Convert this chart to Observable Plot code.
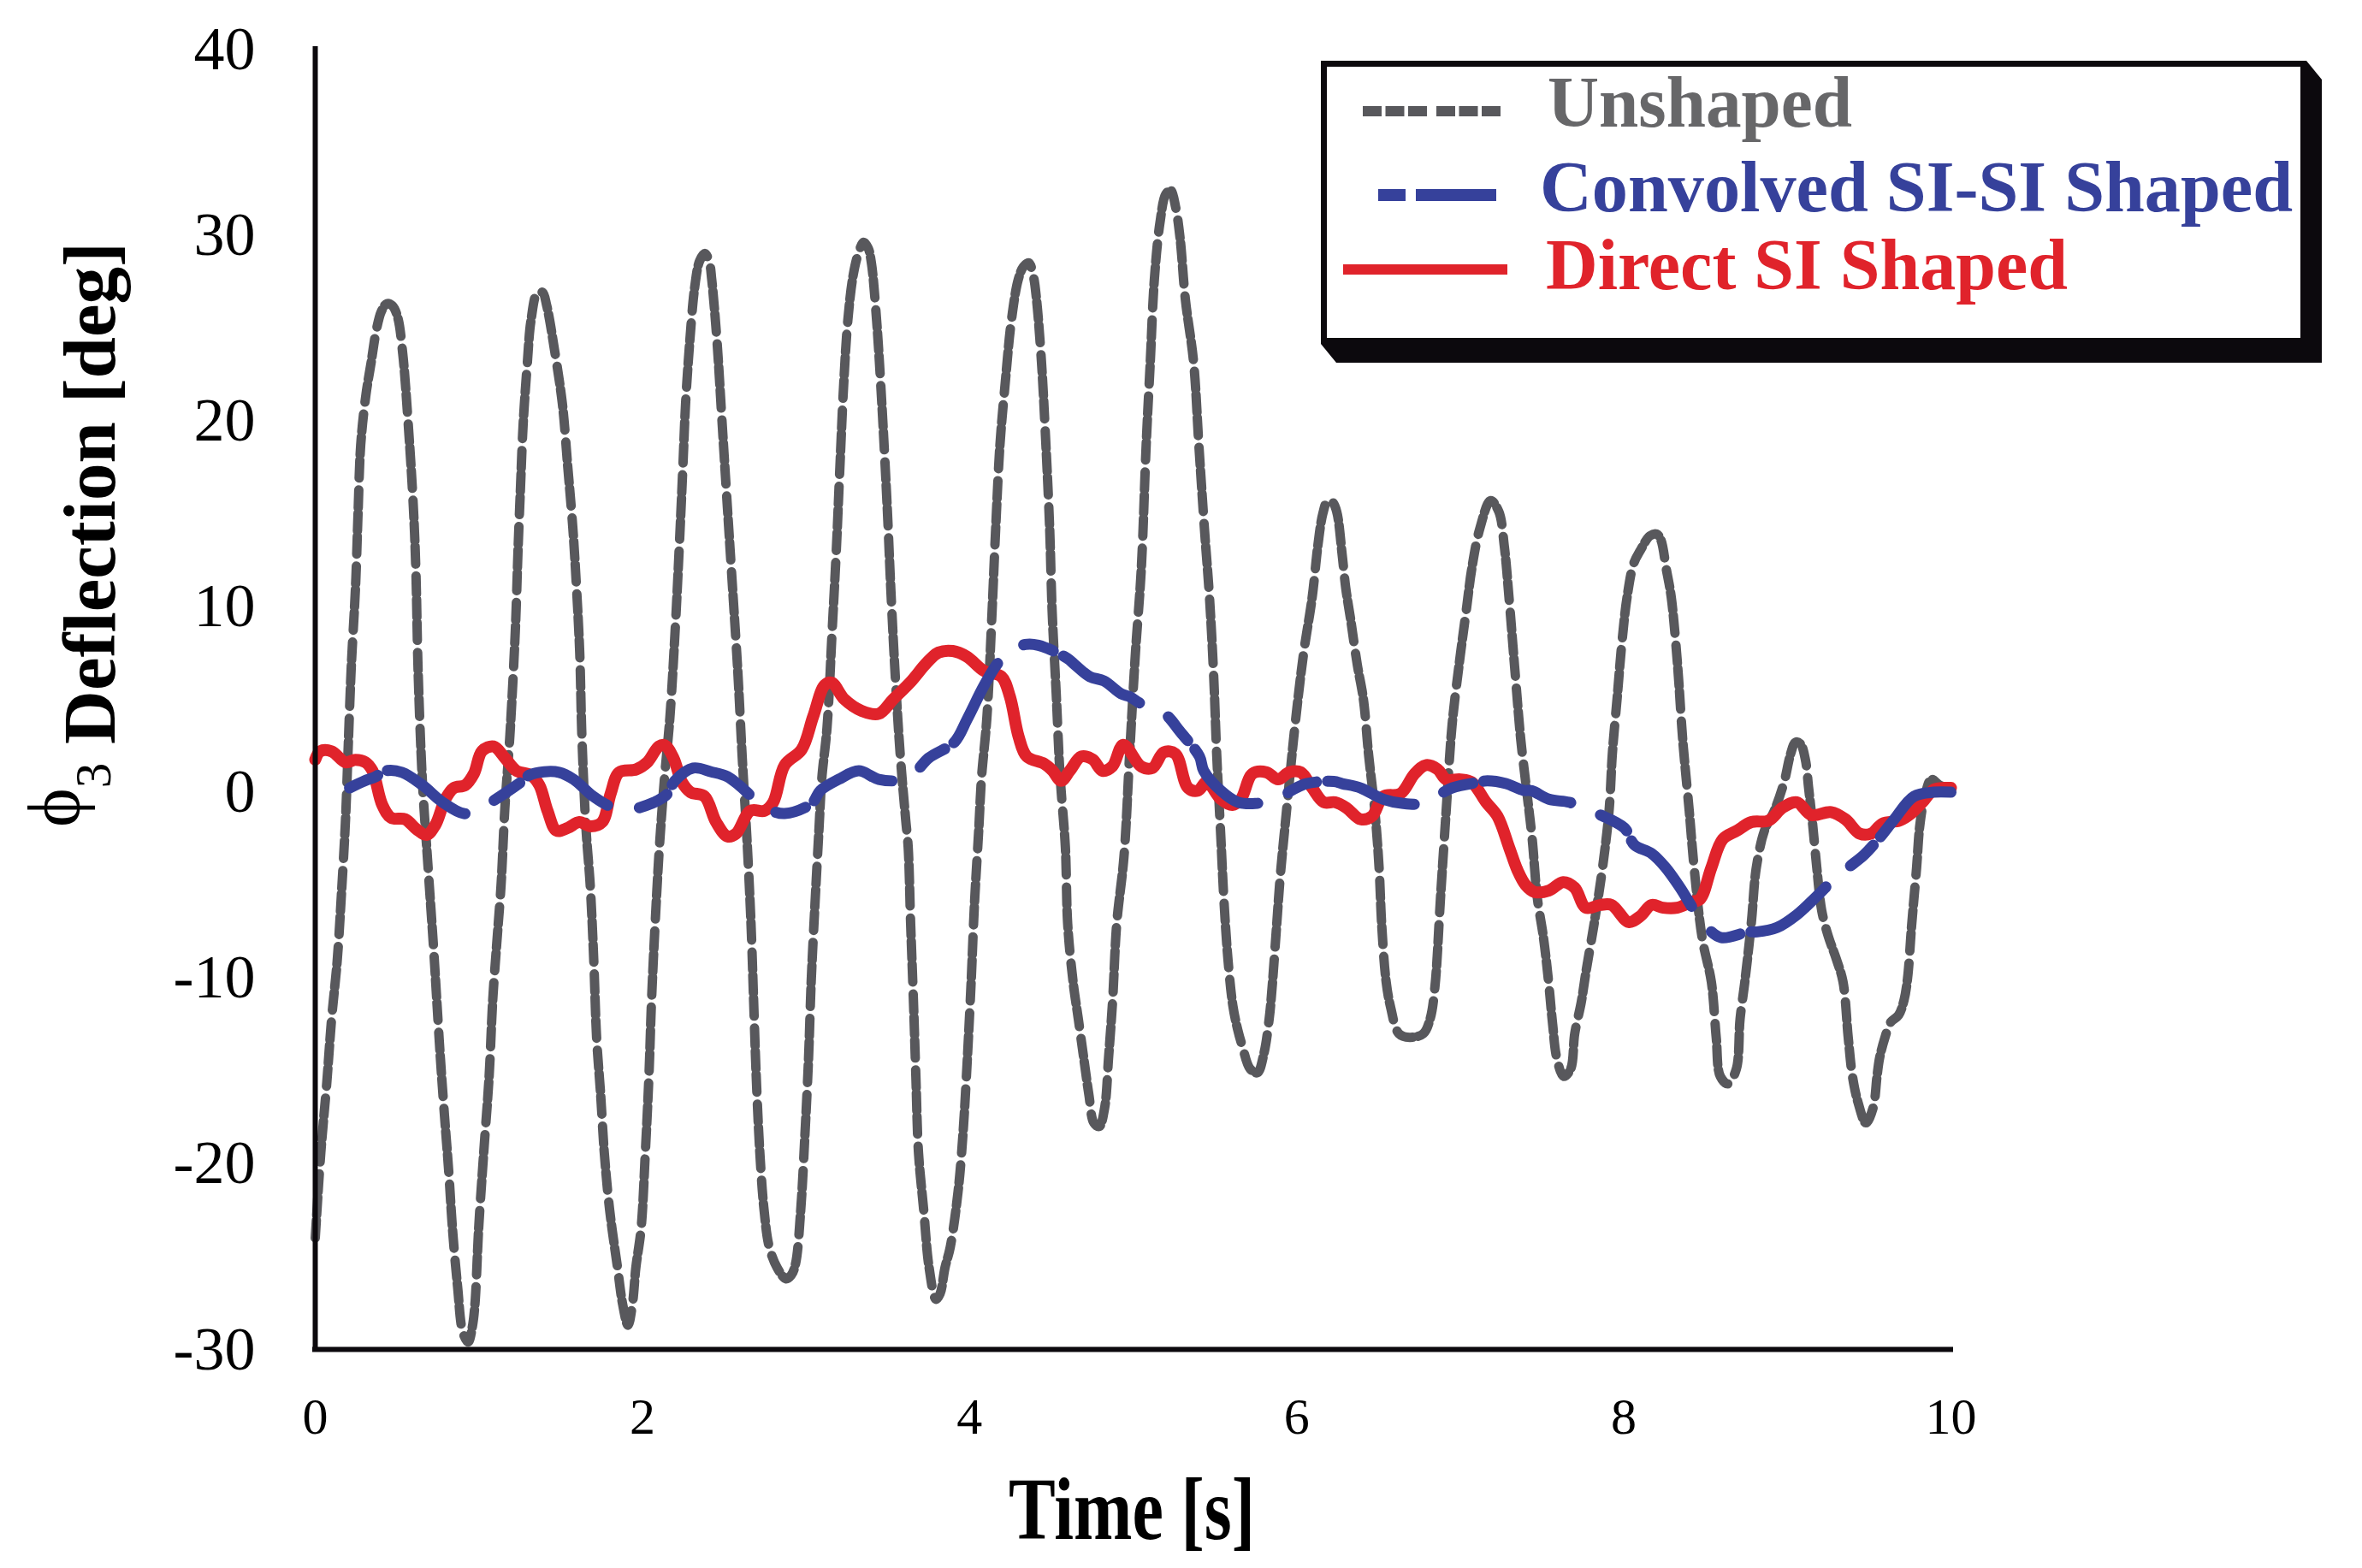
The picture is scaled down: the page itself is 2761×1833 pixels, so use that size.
<!DOCTYPE html>
<html><head><meta charset="utf-8">
<script src="https://cdn.jsdelivr.net/npm/d3@7"></script>
<script src="https://cdn.jsdelivr.net/npm/@observablehq/plot@0.6"></script>
<style>html,body{margin:0;padding:0;background:#fff;} #chart svg{display:block;}</style>
</head><body><div id="chart"></div>
<script>
const xDomain = [0, 10];
const yDomain = [-30, 40];
const xTicks = [0, 2, 4, 6, 8, 10];
const yTicks = [-30, -20, -10, 0, 10, 20, 30, 40];
const seriesNames = ["Unshaped", "Convolved SI-SI Shaped", "Direct SI Shaped"];

const unshaped = [[0,-24.0],[0.034,-19.4],[0.07,-15.7],[0.10,-12.2],[0.134,-9.1],[0.16,-5.5],[0.185,-1.5],[0.2,2.07],[0.22,6.7],[0.246,11.0],[0.262,15.1],[0.278,18.7],[0.31,21.4],[0.342,23.15],[0.374,24.9],[0.405,25.9],[0.438,26.3],[0.47,26.2],[0.503,25.6],[0.535,23.6],[0.567,20.0],[0.599,15.5],[0.615,12.0],[0.629,6.5],[0.655,0.61],[0.69,-4.07],[0.725,-8.6],[0.743,-11.2],[0.765,-14.3],[0.79,-17.4],[0.816,-20.4],[0.839,-23.5],[0.87,-26.6],[0.903,-29.1],[0.935,-29.6],[0.96,-28.8],[0.976,-27.6],[0.999,-23.5],[1.03,-19.4],[1.063,-15.3],[1.085,-11.2],[1.11,-8.1],[1.136,-5.0],[1.159,-0.9],[1.19,3.06],[1.223,8.66],[1.24,13.1],[1.255,16.45],[1.271,19.8],[1.297,23.15],[1.319,25.4],[1.358,26.9],[1.39,26.9],[1.415,26.2],[1.463,23.8],[1.511,20.9],[1.543,17.6],[1.575,14.2],[1.598,10.9],[1.617,7.5],[1.63,3.06],[1.655,-1.93],[1.681,-5.0],[1.703,-9.1],[1.72,-13.2],[1.745,-16.3],[1.767,-19.4],[1.8,-22.5],[1.848,-25.6],[1.88,-27.6],[1.912,-28.7],[1.94,-27.5],[1.96,-25.6],[1.992,-23.5],[2.018,-19.4],[2.04,-15.3],[2.056,-11.2],[2.078,-7.07],[2.104,-2.96],[2.135,0.74],[2.168,4.0],[2.2,8.66],[2.225,13.1],[2.248,17.6],[2.264,20.9],[2.29,24.3],[2.32,27.2],[2.35,28.6],[2.383,29.0],[2.41,28.5],[2.424,27.6],[2.456,24.3],[2.488,19.8],[2.52,15.3],[2.552,10.9],[2.584,6.4],[2.61,1.94],[2.642,-2.96],[2.664,-7.07],[2.68,-11.2],[2.696,-15.3],[2.718,-19.4],[2.744,-22.5],[2.776,-24.5],[2.824,-25.6],[2.878,-26.2],[2.91,-26.0],[2.936,-25.4],[2.968,-22.5],[2.994,-18.4],[3.016,-14.3],[3.032,-10.2],[3.055,-6.05],[3.08,-1.93],[3.097,0.74],[3.129,3.5],[3.16,8.66],[3.186,13.1],[3.208,17.6],[3.231,22.0],[3.256,25.4],[3.288,27.8],[3.32,29.0],[3.352,29.6],[3.38,29.3],[3.4,28.5],[3.432,25.4],[3.464,20.9],[3.497,15.3],[3.519,10.9],[3.545,6.4],[3.577,1.94],[3.61,-1.5],[3.625,-2.96],[3.64,-7.07],[3.657,-11.2],[3.672,-15.3],[3.688,-19.4],[3.72,-22.5],[3.753,-25.6],[3.795,-27.3],[3.82,-27.0],[3.85,-25.6],[3.882,-24.5],[3.93,-21.5],[3.96,-18.4],[3.987,-14.3],[4.01,-10.2],[4.03,-6.05],[4.057,-1.93],[4.073,0.74],[4.106,4.0],[4.138,9.76],[4.16,14.2],[4.186,18.7],[4.218,22.0],[4.256,25.4],[4.298,27.6],[4.33,28.3],[4.362,28.5],[4.39,27.8],[4.41,26.5],[4.44,23.15],[4.467,18.7],[4.49,14.2],[4.505,9.76],[4.53,5.3],[4.554,0.83],[4.586,-2.96],[4.6,-7.07],[4.633,-10.2],[4.665,-12.2],[4.698,-14.3],[4.73,-16.3],[4.76,-17.8],[4.793,-18.0],[4.826,-17.0],[4.85,-14.3],[4.875,-11.2],[4.9,-7.07],[4.944,-3.5],[4.979,2.07],[5.014,7.45],[5.05,12.0],[5.08,18.7],[5.105,23.15],[5.13,27.6],[5.165,30.7],[5.2,32.2],[5.23,32.4],[5.26,31.5],[5.287,29.85],[5.32,26.5],[5.37,23.15],[5.402,18.7],[5.436,14.2],[5.467,10.5],[5.493,6.2],[5.511,2.07],[5.537,-2.53],[5.554,-5.6],[5.58,-9.0],[5.61,-11.5],[5.64,-12.8],[5.667,-13.65],[5.716,-14.9],[5.76,-15.1],[5.799,-14.1],[5.832,-12.2],[5.85,-10.5],[5.875,-7.5],[5.9,-4.5],[5.938,-1.0],[5.99,3.6],[6.042,7.45],[6.095,10.5],[6.13,13.3],[6.16,15.0],[6.19,15.7],[6.22,15.6],[6.245,15.1],[6.278,12.8],[6.3,11.0],[6.33,9.3],[6.37,6.9],[6.408,5.0],[6.44,2.0],[6.478,-1.0],[6.504,-4.07],[6.52,-7.14],[6.547,-10.2],[6.575,-11.6],[6.625,-13.0],[6.691,-13.2],[6.774,-13.0],[6.816,-12.2],[6.845,-10.5],[6.88,-5.6],[6.914,-1.0],[6.95,3.6],[6.995,7.0],[7.04,10.0],[7.07,12.0],[7.12,14.2],[7.186,15.7],[7.236,15.1],[7.27,13.2],[7.298,10.5],[7.333,6.7],[7.37,2.84],[7.40,0.54],[7.44,-2.53],[7.47,-5.6],[7.51,-7.9],[7.54,-10.2],[7.565,-12.5],[7.59,-14.3],[7.632,-15.3],[7.675,-14.9],[7.70,-13.0],[7.74,-11.3],[7.77,-9.6],[7.82,-7.0],[7.87,-4.07],[7.91,-1.0],[7.93,2.07],[7.96,5.14],[7.99,8.2],[8.02,10.5],[8.06,12.3],[8.1,13.0],[8.16,13.8],[8.2,13.9],[8.226,13.6],[8.26,12.0],[8.29,10.5],[8.33,6.7],[8.36,2.84],[8.40,-1.0],[8.43,-4.07],[8.48,-7.9],[8.535,-10.2],[8.565,-13.2],[8.59,-15.3],[8.638,-15.7],[8.688,-14.9],[8.711,-12.2],[8.74,-10.2],[8.78,-7.0],[8.81,-4.07],[8.86,-2.07],[8.92,-1.0],[8.98,0.54],[9.02,2.07],[9.05,2.69],[9.08,2.6],[9.11,1.76],[9.13,0.23],[9.155,-1.77],[9.18,-4.07],[9.21,-6.37],[9.25,-7.75],[9.3,-9.0],[9.34,-10.2],[9.372,-13.2],[9.398,-15.3],[9.432,-16.7],[9.48,-17.8],[9.524,-17.0],[9.548,-15.3],[9.564,-14.3],[9.597,-13.2],[9.63,-12.4],[9.68,-12.0],[9.713,-11.2],[9.735,-10.0],[9.76,-7.14],[9.79,-4.07],[9.81,-1.77],[9.84,-0.23],[9.88,0.69],[9.93,0.38],[9.97,0.23]];

const convolved = [[0.21,0.23],[0.30,0.6],[0.37,0.84],[0.43,1.15],[0.53,1.07],[0.655,0.38],[0.778,-0.54],[0.908,-1.15],[1.0,-0.95],[1.09,-0.46],[1.257,0.54],[1.309,0.92],[1.40,1.1],[1.49,1.07],[1.58,0.69],[1.70,-0.23],[1.806,-0.77],[1.90,-0.9],[1.98,-0.84],[2.146,-0.15],[2.198,0.61],[2.31,1.3],[2.42,1.1],[2.52,0.84],[2.59,0.38],[2.687,-0.38],[2.78,-0.95],[2.87,-1.15],[3.035,-0.61],[3.087,0.08],[3.2,0.69],[3.323,1.15],[3.445,0.69],[3.584,0.66],[3.67,1.1],[3.75,1.84],[3.907,2.69],[3.985,3.92],[4.09,5.76],[4.177,6.99],[4.255,7.6],[4.34,7.95],[4.421,7.91],[4.595,7.22],[4.648,6.83],[4.735,6.22],[4.822,5.99],[4.927,5.3],[4.979,5.14],[5.05,4.76],[5.136,4.53],[5.21,4.1],[5.284,3.3],[5.406,1.92],[5.432,1.15],[5.537,0.08],[5.642,-0.54],[5.746,-0.61],[5.886,-0.38],[5.97,0.1],[6.06,0.46],[6.227,0.58],[6.278,0.46],[6.39,0.23],[6.53,-0.38],[6.652,-0.61],[6.775,-0.61],[6.86,-0.2],[6.95,0.23],[7.115,0.54],[7.166,0.61],[7.28,0.46],[7.385,0.1],[7.437,0.08],[7.542,-0.38],[7.664,-0.54],[7.75,-0.8],[7.838,-1.15],[8.003,-1.92],[8.065,-2.84],[8.17,-3.3],[8.257,-4.07],[8.344,-5.14],[8.431,-6.37],[8.51,-7.3],[8.597,-7.83],[8.762,-7.52],[8.815,-7.52],[8.937,-7.29],[9.058,-6.6],[9.18,-5.6],[9.294,-4.6],[9.38,-4.0],[9.468,-3.38],[9.55,-2.6],[9.65,-1.5],[9.773,-0.23],[9.895,0.0],[10.0,0.0]];

const direct = [[0,1.75],[0.03,2.2],[0.10,2.2],[0.185,1.61],[0.245,1.74],[0.307,1.61],[0.35,1.15],[0.41,-0.69],[0.464,-1.38],[0.55,-1.46],[0.62,-2.0],[0.68,-2.3],[0.734,-1.77],[0.795,-0.38],[0.847,0.23],[0.917,0.38],[0.97,1.0],[1.02,2.22],[1.091,2.46],[1.16,1.84],[1.23,1.15],[1.318,0.92],[1.37,0.38],[1.42,-1.0],[1.475,-2.07],[1.545,-1.92],[1.614,-1.61],[1.684,-1.84],[1.754,-1.61],[1.806,-0.08],[1.858,1.07],[1.963,1.23],[2.03,1.61],[2.1,2.46],[2.137,2.53],[2.19,1.84],[2.242,0.54],[2.294,0.0],[2.38,-0.23],[2.45,-1.6],[2.52,-2.38],[2.573,-2.23],[2.66,-1.0],[2.747,-1.0],[2.8,-0.54],[2.87,1.46],[2.974,2.3],[3.044,4.07],[3.114,5.76],[3.157,5.9],[3.236,4.99],[3.34,4.38],[3.445,4.22],[3.532,4.99],[3.637,5.91],[3.741,6.99],[3.811,7.52],[3.898,7.6],[3.985,7.29],[4.09,6.52],[4.195,6.22],[4.247,5.14],[4.30,2.99],[4.35,1.92],[4.456,1.53],[4.508,1.15],[4.56,0.61],[4.613,1.15],[4.683,1.92],[4.752,1.77],[4.813,1.15],[4.874,1.4],[4.94,2.55],[5.05,1.38],[5.118,1.3],[5.188,2.15],[5.258,2.07],[5.336,0.23],[5.397,0.08],[5.45,0.54],[5.537,-0.38],[5.607,-0.69],[5.659,-0.38],[5.73,1.0],[5.816,1.07],[5.886,0.69],[5.955,1.07],[6.025,1.07],[6.095,0.23],[6.165,-0.54],[6.234,-0.54],[6.304,-0.84],[6.391,-1.46],[6.46,-1.3],[6.53,-0.23],[6.635,-0.08],[6.722,1.0],[6.792,1.46],[6.862,1.23],[6.914,0.69],[7.001,0.69],[7.07,0.54],[7.158,-0.54],[7.228,-1.3],[7.3,-3.0],[7.35,-4.2],[7.4,-5.0],[7.454,-5.37],[7.542,-5.3],[7.629,-4.84],[7.699,-5.14],[7.768,-6.22],[7.856,-6.07],[7.925,-6.07],[8.03,-6.99],[8.1,-6.68],[8.17,-6.07],[8.24,-6.22],[8.326,-6.22],[8.413,-5.91],[8.466,-5.76],[8.535,-4.07],[8.605,-2.53],[8.692,-2.07],[8.78,-1.61],[8.885,-1.53],[8.97,-0.84],[9.058,-0.54],[9.146,-1.23],[9.267,-1.07],[9.355,-1.46],[9.442,-2.23],[9.512,-2.23],[9.582,-1.69],[9.686,-1.53],[9.756,-1.15],[9.826,-0.54],[9.896,0.15],[9.965,0.23],[10.0,0.23]];

const colors = {gray: "#58585c", blue: "#36419b", red: "#e0232b", grayText: "#676769"};
const serif = '"Liberation Serif", "Times New Roman", "DejaVu Serif", serif';
const grayDash = "21,6,21,6,21,14";
const blueDash = "36,13,106,38";

const chart = Plot.plot({
  width: 2761, height: 1833,
  marginLeft: 368, marginRight: 481, marginTop: 57, marginBottom: 256,
  style: {fontFamily: serif, background: "white", color: "#000", overflow: "visible"},
  x: {domain: xDomain},
  y: {domain: yDomain},
  marks: [
    Plot.axisX({ticks: xTicks, tickSize: 0, tickPadding: 56, fontSize: 60, label: null, tickFormat: d => String(d)}),
    Plot.axisY({ticks: yTicks, tickSize: 0, tickPadding: 70, fontSize: 72, label: null, tickFormat: d => String(d)}),
    Plot.line(unshaped, {x: d => d[0], y: d => d[1], stroke: colors.gray, strokeWidth: 11, strokeDasharray: grayDash, curve: "catmull-rom"}),
    Plot.line(direct, {x: d => d[0], y: d => d[1], stroke: colors.red, strokeWidth: 14, curve: "catmull-rom", strokeLinejoin: "round"}),
    Plot.line(convolved, {x: d => d[0], y: d => d[1], stroke: colors.blue, strokeWidth: 13, strokeDasharray: blueDash, curve: "catmull-rom"}),
    Plot.ruleX([xDomain[0]], {y1: yDomain[0], y2: yDomain[1], stroke: "#0c090d", strokeWidth: 6, strokeLinecap: "square"}),
    Plot.ruleY([yDomain[0]], {x1: xDomain[0], x2: xDomain[1], stroke: "#0c090d", strokeWidth: 6, strokeLinecap: "square"})
  ]
});
document.getElementById("chart").appendChild(chart);

const svg = d3.select(chart);
// Y axis title
const yt = svg.append("text")
  .attr("transform", "translate(134,967) rotate(-90)")
  .attr("text-anchor", "start")
  .attr("font-family", serif)
  .attr("fill", "#000");
yt.append("tspan").attr("font-size", 87).attr("font-weight", "normal").attr("dy", -42).text("\u03D5");
yt.append("tspan").attr("font-size", 59).attr("font-weight", "normal").attr("dy", 37).text("3");
yt.append("tspan").attr("font-size", 87).attr("font-weight", "bold").attr("dy", 5).text("\u00A0Deflection [deg]");

// X axis title
svg.append("text")
  .attr("x", 1323).attr("y", 1799)
  .attr("text-anchor", "middle")
  .attr("font-family", serif).attr("font-weight", "bold").attr("font-size", 104)
  .attr("textLength", 288).attr("lengthAdjust", "spacingAndGlyphs")
  .attr("fill", "#000")
  .text("Time [s]");

// Legend
const lg = svg.append("g").attr("text-anchor", "start");
lg.append("polygon").attr("points", "2696,71 2714,93 2714,424 1562,424 1544,402").attr("fill", "#0c090d");
lg.append("rect").attr("x", 1547.5).attr("y", 74.5).attr("width", 1145).attr("height", 324)
  .attr("fill", "#fff").attr("stroke", "#0c090d").attr("stroke-width", 7);
const entries = [
  {name: seriesNames[0], color: colors.gray, text: colors.grayText, x1: 1593, x2: 1755, y: 130, w: 12, dash: "22,4.5,22,4.5,22,11", tx: 1809, ty: 148, tl: 356},
  {name: seriesNames[1], color: colors.blue, text: colors.blue, x1: 1611, x2: 1749, y: 228, w: 14, dash: "32,12,95,35", tx: 1800, ty: 247, tl: 880},
  {name: seriesNames[2], color: colors.red, text: colors.red, x1: 1570, x2: 1762, y: 315, w: 12, dash: null, tx: 1807, ty: 338, tl: 610}
];
for (const e of entries) {
  const ln = lg.append("line").attr("x1", e.x1).attr("x2", e.x2).attr("y1", e.y).attr("y2", e.y)
    .attr("stroke", e.color).attr("stroke-width", e.w);
  if (e.dash) ln.attr("stroke-dasharray", e.dash);
  lg.append("text").attr("x", e.tx).attr("y", e.ty)
    .attr("text-anchor", "start")
    .attr("font-family", serif).attr("font-weight", "bold").attr("font-size", 85)
    .attr("textLength", e.tl).attr("lengthAdjust", "spacingAndGlyphs")
    .attr("fill", e.text).text(e.name);
}
</script></body></html>
